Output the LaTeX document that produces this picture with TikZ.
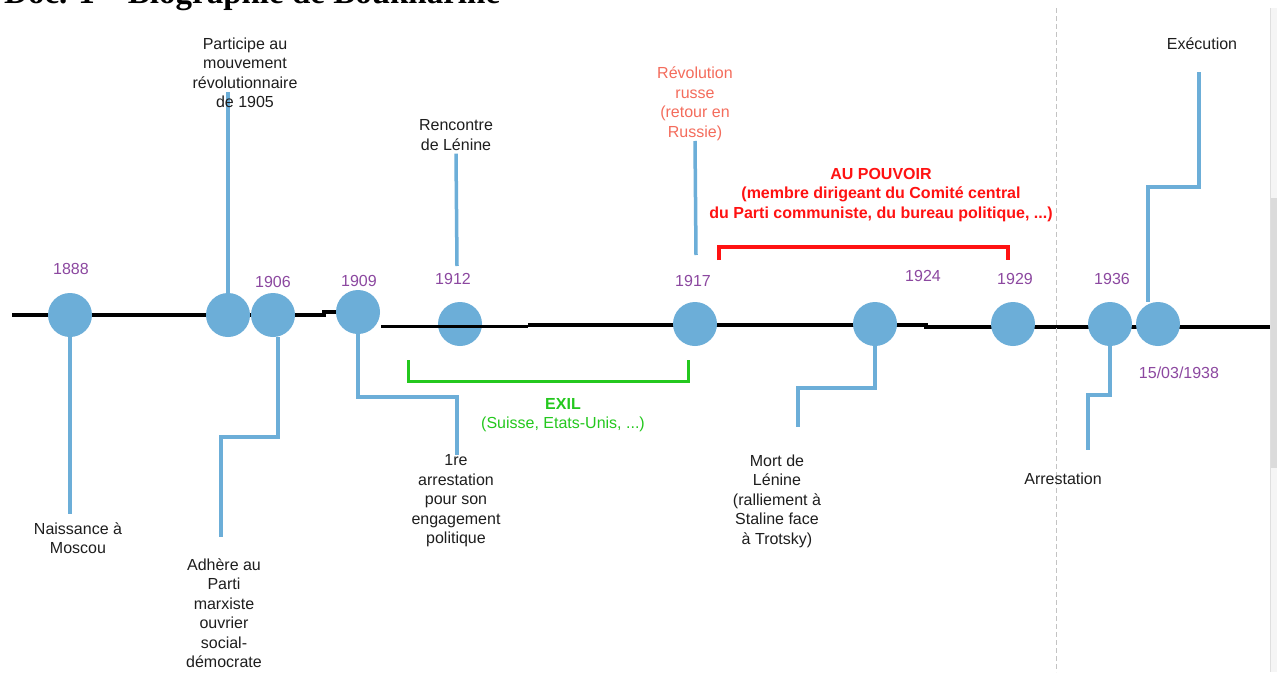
\documentclass[tikz,border=0pt]{standalone}
\usepackage{fontspec}
\setmainfont{Liberation Sans}
\newfontfamily\titlefont{Liberation Serif}
\definecolor{tlblue}{RGB}{108,174,216}
\definecolor{tlpurple}{RGB}{140,72,160}
\definecolor{tlsalmon}{RGB}{244,108,92}
\definecolor{tlgreen}{RGB}{36,200,30}
\definecolor{tlred}{RGB}{255,18,18}
\definecolor{tltext}{RGB}{30,30,30}
\pgfdeclarelayer{paper}
\pgfdeclarelayer{background}
\pgfsetlayers{paper,background,main}
\begin{document}
\begin{tikzpicture}[x=1pt,y=-1pt,
  dot/.style={circle, fill=tlblue, minimum size=44pt, inner sep=0pt},
  conn/.style={draw=tlblue, line width=3.5pt},
  timeline/.style={draw=black, line width=3.2pt},
  year/.style={text=tlpurple, font=\fontsize{16}{19.5}\selectfont, inner sep=0pt},
  lbl/.style={align=center, text=tltext, font=\fontsize{16}{19.5}\selectfont, inner sep=0pt},
  bracket/.style={line width=3pt},
  sepline/.style={draw={rgb,255:red,195;green,195;blue,195}, line width=1pt, dash pattern=on 5pt off 3pt}
]
\useasboundingbox (0,0) rectangle (1277,672);
\begin{pgfonlayer}{paper}
\fill[white] (0,0) rectangle (1277,672);
\end{pgfonlayer}

% title (cut off at the top)
\begin{scope}
\clip (0,0) rectangle (1277,672);
\node[anchor=base west, inner sep=0pt, font=\titlefont\bfseries\fontsize{33}{38}\selectfont] (title) at (4,3) {Doc. 1 – Biographie de Boukharine};
\end{scope}

% scroll bar
\fill[gray!8] (1270,8) rectangle (1277,672);
\draw[gray!25, line width=0.8pt] (1270.5,8) -- (1270.5,672);
\fill[gray!28] (1271,198) rectangle (1277,468);

% separator
\draw[sepline] (1056,8) -- (1056,672);

% circles
\node[dot] (c1888) at (70,315) {};
\node[dot] (c1905) at (228,315) {};
\node[dot] (c1906) at (273,315) {};
\node[dot] (c1909) at (358,312) {};
\node[dot] (c1912) at (460,324) {};
\node[dot] (c1917) at (695,324) {};
\node[dot] (c1924) at (875,324) {};
\node[dot] (c1929) at (1013,324) {};
\node[dot] (c1936) at (1110,324) {};
\node[dot] (c1938) at (1158,324) {};

% years
\node[year] (y1888) at (71,269) {1888};
\node[year] (y1906) at (273,282) {1906};
\node[year] (y1909) at (359,281) {1909};
\node[year] (y1912) at (453,279) {1912};
\node[year] (y1917) at (693,281) {1917};
\node[year] (y1924) at (923,276) {1924};
\node[year] (y1929) at (1015,279) {1929};
\node[year] (y1936) at (1112,279) {1936};
\node[year] (y1938) at (1179,373) {15/03/1938};

% labels
\node[lbl] (participe) at (245,73) {Participe au\\mouvement\\révolutionnaire\\de 1905};
\node[lbl] (rencontre) at (456,135) {Rencontre\\de Lénine};
\node[lbl, text=tlsalmon] (revolution) at (695,104) {Révolution\\russe\\(retour en\\Russie)};
\node[lbl] (execution) at (1202,44) {Exécution};
\node[lbl, text=tlred, font=\fontsize{16}{19.5}\selectfont\bfseries] (pouvoir) at (881,195) {AU POUVOIR\\(membre dirigeant du Comité central\\du Parti communiste, du bureau politique, ...)};
\node[lbl, text=tlgreen] (exil) at (563,415) {\textbf{EXIL}\\(Suisse, Etats-Unis, ...)};
\node[lbl] (naissance) at (78,538) {Naissance à\\Moscou};
\node[lbl] (adhere) at (224,613) {Adhère au\\Parti\\marxiste\\ouvrier\\social-\\démocrate};
\node[lbl] (arrest1) at (456,501) {1re\\arrestation\\pour son\\engagement\\politique};
\node[lbl] (mort) at (777,501) {Mort de\\Lénine\\(ralliement à\\Staline face\\à Trotsky)};
\node[lbl] (arrest2) at (1063,479) {Arrestation};

% connector end points
\coordinate (e1888) at (70,514);
\coordinate (e1905) at (228,92);
\coordinate (k1906) at (221,437);
\coordinate (e1906) at (221,537);
\coordinate (k1909) at (457,397);
\coordinate (e1909) at (457,455);
\coordinate (e1912) at (457,266);
\coordinate (e1917) at (696,255);
\coordinate (k1924) at (798,388);
\coordinate (e1924) at (798,427);
\coordinate (k1936) at (1088,395);
\coordinate (e1936) at (1088,450);
\coordinate (k1938) at (1199,187);
\coordinate (e1938) at (1199,72);

% timeline axis points
\coordinate (t0) at (12,315);
\coordinate (t1) at (324,315);
\coordinate (t2) at (324,312);
\coordinate (t3) at (381,326.5);
\coordinate (t4) at (528,326.5);
\coordinate (t5) at (528,325);
\coordinate (t6) at (926,325);
\coordinate (t7) at (926,327);
\coordinate (t8) at (1272,327);

\begin{pgfonlayer}{background}
  \draw[timeline] (t0) -- (t1) -- (t2) -- (c1909.center);
  \draw[timeline] (t5) -- (t6) -- (t7) -- (t8);
  \draw[conn] (c1888.south) -- (e1888);
  \draw[conn] (c1905.north) -- (e1905);
  \draw[conn] ([xshift=5pt]c1906.south) |- (k1906) -- (e1906);
  \draw[conn] (c1909.south) |- (k1909) -- (e1909);
  \draw[conn] ([yshift=-3pt]rencontre.south) -- (e1912);
  \draw[conn] (revolution.south) -- (e1917);
  \draw[conn] (c1924.south) |- (k1924) -- (e1924);
  \draw[conn] (c1936.south) |- (k1936) -- (e1936);
  \draw[conn] ([xshift=-10pt]c1938.north) |- (k1938) -- (e1938);
\end{pgfonlayer}

% segment drawn over the 1912 circle
\draw[timeline] (t3) -- (t4);

% brackets
\draw[bracket, tlgreen] (408,360) -- (408,381) -- (688,381) -- (688,360);
\draw[bracket, tlred, line width=3.5pt] (719,260) -- (719,247) -- (1008,247) -- (1008,260);
\end{tikzpicture}
\end{document}
